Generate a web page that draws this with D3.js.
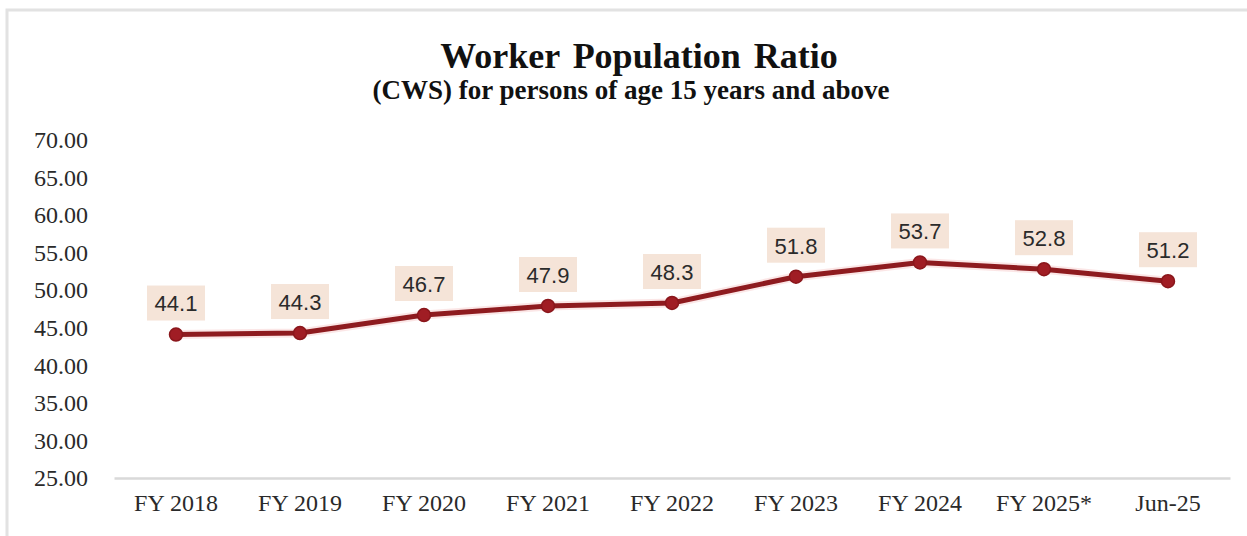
<!DOCTYPE html>
<html>
<head>
<meta charset="utf-8">
<script src="https://cdn.jsdelivr.net/npm/d3@7"></script>
<style>
  html, body { margin: 0; padding: 0; background: #ffffff; }
  svg { display: block; }
</style>
</head>
<body>
<svg id="chart" width="1247" height="536"></svg>
<script>
// Worker Population Ratio (CWS), persons aged 15 years and above
const categories = ["FY 2018", "FY 2019", "FY 2020", "FY 2021", "FY 2022", "FY 2023", "FY 2024", "FY 2025*", "Jun-25"];
const wprValues = [44.1, 44.3, 46.7, 47.9, 48.3, 51.8, 53.7, 52.8, 51.2];
const yTicks = [25, 30, 35, 40, 45, 50, 55, 60, 65, 70];

const W = 1247, H = 536;
const margin = { top: 140, right: 17, bottom: 58, left: 114 };

const svg = d3.select("#chart");

// chart frame
svg.append("rect")
  .attr("x", 7).attr("y", 10)
  .attr("width", W + 20).attr("height", H + 20)
  .attr("fill", "#ffffff")
  .attr("stroke", "#e2e2e2")
  .attr("stroke-width", 3);

const x = d3.scaleBand()
  .domain(categories)
  .range([margin.left, W - margin.right])
  .padding(0);

const y = d3.scaleLinear()
  .domain([25, 70])
  .range([H - margin.bottom, margin.top]);

// titles
svg.append("text")
  .attr("x", 639).attr("y", 68)
  .attr("text-anchor", "middle")
  .attr("font-family", "'Liberation Serif', 'Times New Roman', serif")
  .attr("font-weight", "bold")
  .attr("font-size", 36)
  .attr("word-spacing", 4)
  .attr("fill", "#111")
  .text("Worker Population Ratio");

svg.append("text")
  .attr("x", 631).attr("y", 99)
  .attr("text-anchor", "middle")
  .attr("font-family", "'Liberation Serif', 'Times New Roman', serif")
  .attr("font-weight", "bold")
  .attr("font-size", 27)
  .attr("fill", "#111")
  .text("(CWS) for persons of age 15 years and above");

// y axis (labels only)
const yAxis = d3.axisLeft(y)
  .tickValues(yTicks)
  .tickFormat(d3.format(".2f"))
  .tickSize(0)
  .tickPadding(0);

const gy = svg.append("g")
  .attr("transform", `translate(88,0)`)
  .call(yAxis);
gy.select(".domain").remove();
gy.selectAll("text")
  .attr("font-family", "'Liberation Serif', 'Times New Roman', serif")
  .attr("font-size", 24)
  .attr("fill", "#2a2a2a");

// x axis
const xAxis = d3.axisBottom(x).tickSize(0).tickPadding(16);
const gx = svg.append("g")
  .attr("transform", `translate(0,${H - margin.bottom})`)
  .call(xAxis);
gx.select(".domain")
  .attr("stroke", "#d9d9d9")
  .attr("stroke-width", 2.5);
gx.selectAll("text")
  .attr("font-family", "'Liberation Serif', 'Times New Roman', serif")
  .attr("font-size", 24)
  .attr("fill", "#2a2a2a");

const cx = d => x(d) + x.bandwidth() / 2;
const pts = categories.map((c, i) => ({ c, v: wprValues[i] }));

// series line
const line = d3.line()
  .x(d => cx(d.c))
  .y(d => y(d.v));

svg.append("path")
  .datum(pts)
  .attr("d", line)
  .attr("fill", "none")
  .attr("stroke", "#f3b8b8")
  .attr("stroke-width", 9)
  .attr("stroke-opacity", 0.35)
  .attr("stroke-linejoin", "round");

svg.append("path")
  .datum(pts)
  .attr("d", line)
  .attr("fill", "none")
  .attr("stroke", "#8e1b1f")
  .attr("stroke-width", 5)
  .attr("stroke-linejoin", "round");

svg.selectAll("circle.pt")
  .data(pts)
  .join("circle")
  .attr("class", "pt")
  .attr("cx", d => cx(d.c))
  .attr("cy", d => y(d.v))
  .attr("r", 6.5)
  .attr("fill", "#a01d24")
  .attr("stroke", "#8a161b")
  .attr("stroke-width", 1.5);

// value labels
const labels = svg.selectAll("g.lbl")
  .data(pts)
  .join("g")
  .attr("class", "lbl")
  .attr("transform", d => `translate(${cx(d.c)},${y(d.v) - 31})`);

labels.append("rect")
  .attr("x", -29).attr("y", -18)
  .attr("width", 58).attr("height", 35)
  .attr("fill", "#f5e4d8");

labels.append("text")
  .attr("text-anchor", "middle")
  .attr("dy", "0.36em")
  .attr("font-family", "'Liberation Sans', Arial, sans-serif")
  .attr("font-size", 22)
  .attr("fill", "#2b2b2b")
  .text(d => d.v.toFixed(1));
</script>
</body>
</html>
